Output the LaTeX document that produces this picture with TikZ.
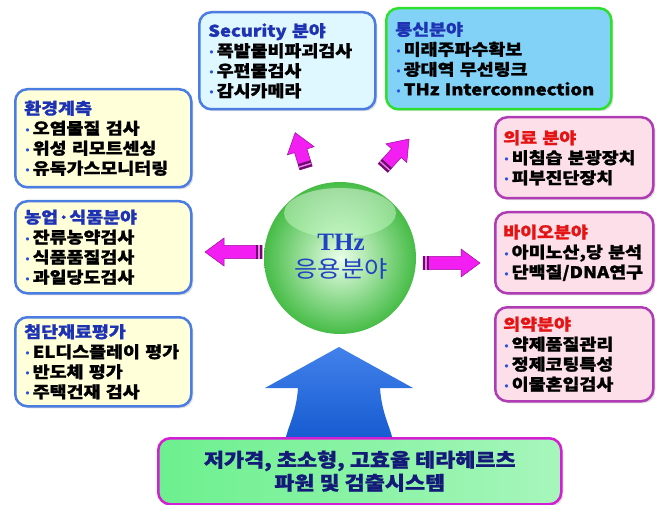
\documentclass[tikz,border=0pt]{standalone}
\usepackage{fontspec}
\setmainfont{Noto Sans CJK KR}[BoldFeatures={FakeBold=1.2, FakeStretch=1.15}]
\newfontfamily\krwide{Noto Sans CJK KR}[FakeStretch=1.1]
\newfontfamily\dejavu{DejaVu Sans}
\newfontfamily\timesf{Liberation Serif}
\usetikzlibrary{shadows}
\definecolor{yelfill}{HTML}{FFFFDA}
\definecolor{blueedge}{HTML}{4A7CE2}
\definecolor{titleblue}{HTML}{1E32B4}
\definecolor{secfill}{HTML}{DFF7FF}
\definecolor{commfill}{HTML}{82D2F8}
\definecolor{commedge}{HTML}{2EE02E}
\definecolor{pinkfill}{HTML}{FDDFE9}
\definecolor{purpedge}{HTML}{B03CB4}
\definecolor{titlered}{HTML}{E41414}
\definecolor{bulblue}{HTML}{2A50E0}
\definecolor{botfill}{HTML}{6CF08E}
\definecolor{botedge}{HTML}{D41ED4}
\definecolor{navy}{HTML}{141A78}
\definecolor{magfill}{HTML}{F21EF2}
\definecolor{magedge}{HTML}{9A109A}
\definecolor{magdark}{HTML}{6A0E6A}
\definecolor{bigblue}{HTML}{1462E6}
\definecolor{spheretext}{HTML}{2242C4}
\definecolor{sphereout}{HTML}{46BC46}
\definecolor{spherein}{HTML}{EAFFEA}
\newcommand\bul{{\dejavu\mdseries\color{bulblue}\fontsize{11}{11}\selectfont •}\hspace{2pt}}
\tikzset{
  box/.style={draw, rounded corners=12pt, line width=2.5pt, inner sep=0pt,
    align=left, anchor=north west,
    font=\bfseries\fontsize{16}{20}\selectfont,
    drop shadow={shadow xshift=2pt, shadow yshift=-2pt, opacity=0.25}},
  leftbox/.style={box, draw=blueedge, fill=yelfill},
  secbox/.style={box, draw=blueedge, fill=secfill},
  commbox/.style={box, draw=commedge, fill=commfill},
  rightbox/.style={box, draw=purpedge, fill=pinkfill},
  pics/blockarrow/.style={code={
    \fill[magfill, draw=magedge, line width=0.5pt]
      (0,-6.5) -- (#1-19,-6.5) -- (#1-19,-14) -- (#1,0) -- (#1-19,14)
      -- (#1-19,6.5) -- (0,6.5) -- cycle;
    \fill[magdark] (0,-6.5) rectangle (6,6.5);
    \fill[magfill!60!white] (2.2,-6.5) rectangle (3.6,6.5);
  }}
}
\begin{document}
\begin{tikzpicture}[x=1pt,y=-1pt]
\useasboundingbox (0,0) rectangle (656,505);

% big blue arrow
\shade[top color=bigblue!80!white, bottom color=bigblue!90!black]
  (339,347) -- (413,388) -- (380,388) .. controls (382,415) and (390,425) .. (394,445)
  -- (284,445) .. controls (288,425) and (296,415) .. (298,388) -- (265,388) -- cycle;

% sphere
\node[circle, minimum size=152pt, inner sep=0pt,
      inner color=spherein, outer color=sphereout] (center) at (340,258) {};
\shade[top color=white, bottom color=green!25!white, opacity=0.45] (340,213) ellipse (56 and 25);
\node[align=center, text=spheretext] (centertext) at (341,257)
  {{\timesf\bfseries\fontsize{25}{25}\selectfont THz}\\[7pt]{\krwide\fontsize{23}{25}\selectfont 응용분야}};

% left boxes
\node[leftbox, minimum width=176pt, minimum height=98pt, text width=158pt] (env) at (14,88)
  {{\color{titleblue}환경계측}\\\bul 오염물질 검사\\\bul 위성 리모트센싱\\\bul 유독가스모니터링};
\node[leftbox, minimum width=176pt, minimum height=92pt, text width=158pt] (agri) at (14,200)
  {{\color{titleblue}농업·식품분야}\\\bul 잔류농약검사\\\bul 식품품질검사\\\bul 과일당도검사};
\node[leftbox, minimum width=176pt, minimum height=89pt, text width=158pt] (mat) at (14,316)
  {{\color{titleblue}첨단재료평가}\\\bul EL디스플레이 평가\\\bul 반도체 평가\\\bul 주택건재 검사};

% top boxes
\node[secbox, minimum width=176pt, minimum height=97pt, text width=158pt] (sec) at (198,11)
  {{\color{titleblue}Security 분야}\\\bul 폭발물비파괴검사\\\bul 우편물검사\\\bul 감시카메라};
\node[commbox, minimum width=225pt, minimum height=101pt, text width=207pt] (comm) at (385,7)
  {{\color{titleblue}통신분야}\\\bul 미래주파수확보\\\bul 광대역 무선링크\\\bul THz Interconnection};

% right boxes
\node[rightbox, minimum width=158pt, minimum height=81pt, text width=142pt] (med) at (494,116)
  {{\color{titlered}의료 분야}\\\bul 비침습 분광장치\\\bul 피부진단장치};
\node[rightbox, minimum width=158pt, minimum height=81pt, text width=142pt] (bio) at (494,211)
  {{\color{titlered}바이오분야}\\\bul 아미노산,당 분석\\\bul 단백질/DNA연구};
\node[rightbox, minimum width=158pt, minimum height=94pt, text width=142pt] (pharm) at (494,306)
  {{\color{titlered}의약분야}\\\bul 약제품질관리\\\bul 정제코팅특성\\\bul 이물혼입검사};

% bottom box
\node[draw=botedge, line width=2.5pt, rounded corners=12pt, left color=botfill, right color=botfill!60!white,
      anchor=north west, minimum width=403pt, minimum height=66pt, align=center, text=navy,
      font=\bfseries\fontsize{19}{23}\selectfont,
      drop shadow={shadow xshift=2pt, shadow yshift=-2pt, opacity=0.25}] (bottom) at (157,437)
  {저가격, 초소형, 고효율 테라헤르츠\\파원 및 검출시스템};

% magenta arrows
\pic[rotate=180] (arrL) at (262,252) {blockarrow=57};
\pic (arrR) at (423,263) {blockarrow=57};
\pic[rotate=107] (arrUL) at (306,168) {blockarrow=37};
\pic[rotate=48] (arrUR) at (383,168) {blockarrow=39};
\end{tikzpicture}
\end{document}
